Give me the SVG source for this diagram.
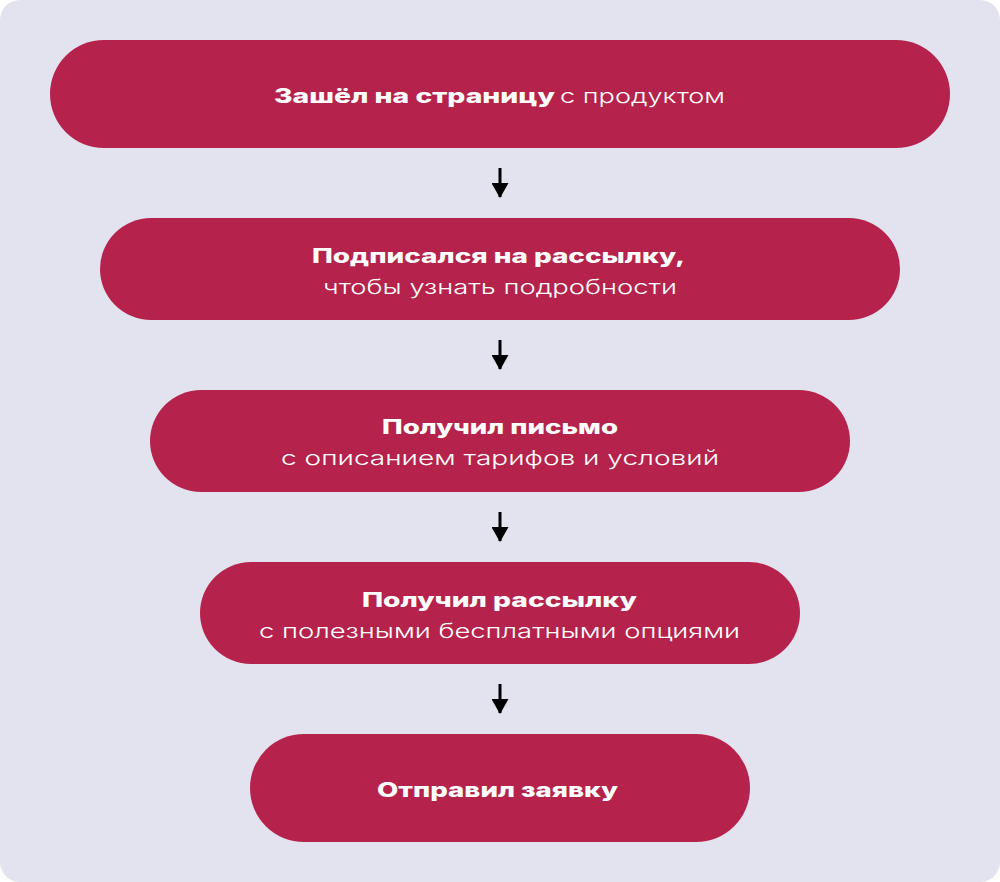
<svg xmlns="http://www.w3.org/2000/svg" width="1000" height="882" viewBox="0 0 1000 882">
<defs>
<style>
.n{fill:#B5234C}
.t{font-family:Inter,"Noto Sans",sans-serif;font-size:20px;fill:#FFFFFF}
.b{font-weight:800}
.r{font-weight:300}
.c line{stroke:#000;stroke-width:3}
</style>
<marker id="ah" markerWidth="16" markerHeight="17" viewBox="0 0 15 17" refX="14" refY="8.5" orient="auto" markerUnits="userSpaceOnUse">
<path d="M0,0 L15,8.5 L0,17 Z" fill="#000"/>
</marker>
</defs>
<rect x="0" y="0" width="1000" height="882" rx="20" fill="#E3E3EF"/>
<g id="n1"><rect class="n" x="50" y="40" width="900" height="108" rx="54"/>
<text class="t b" x="274" y="103" textLength="281" lengthAdjust="spacingAndGlyphs">Зашёл на страницу</text>
<text class="t r" x="560" y="103" textLength="165" lengthAdjust="spacingAndGlyphs">с продуктом</text></g>
<g id="n2"><rect class="n" x="100" y="218" width="800" height="102" rx="51"/>
<text class="t b" x="312" y="263" textLength="373" lengthAdjust="spacingAndGlyphs">Подписался на рассылку,</text>
<text class="t r" x="323" y="294" textLength="354" lengthAdjust="spacingAndGlyphs">чтобы узнать подробности</text></g>
<g id="n3"><rect class="n" x="150" y="390" width="700" height="102" rx="51"/>
<text class="t b" x="382" y="434" textLength="236" lengthAdjust="spacingAndGlyphs">Получил письмо</text>
<text class="t r" x="281" y="465" textLength="438" lengthAdjust="spacingAndGlyphs">с описанием тарифов и условий</text></g>
<g id="n4"><rect class="n" x="200" y="562" width="600" height="102" rx="51"/>
<text class="t b" x="362" y="607" textLength="275" lengthAdjust="spacingAndGlyphs">Получил рассылку</text>
<text class="t r" x="259" y="638" textLength="481" lengthAdjust="spacingAndGlyphs">с полезными бесплатными опциями</text></g>
<g id="n5"><rect class="n" x="250" y="734" width="500" height="108" rx="54"/>
<text class="t b" x="377" y="797" textLength="241" lengthAdjust="spacingAndGlyphs">Отправил заявку</text></g>
<g class="c" id="connectors">
<line x1="500" y1="168" x2="500" y2="197" marker-end="url(#ah)"/>
<line x1="500" y1="340" x2="500" y2="369" marker-end="url(#ah)"/>
<line x1="500" y1="512" x2="500" y2="541" marker-end="url(#ah)"/>
<line x1="500" y1="684" x2="500" y2="713" marker-end="url(#ah)"/>
</g>
</svg>
